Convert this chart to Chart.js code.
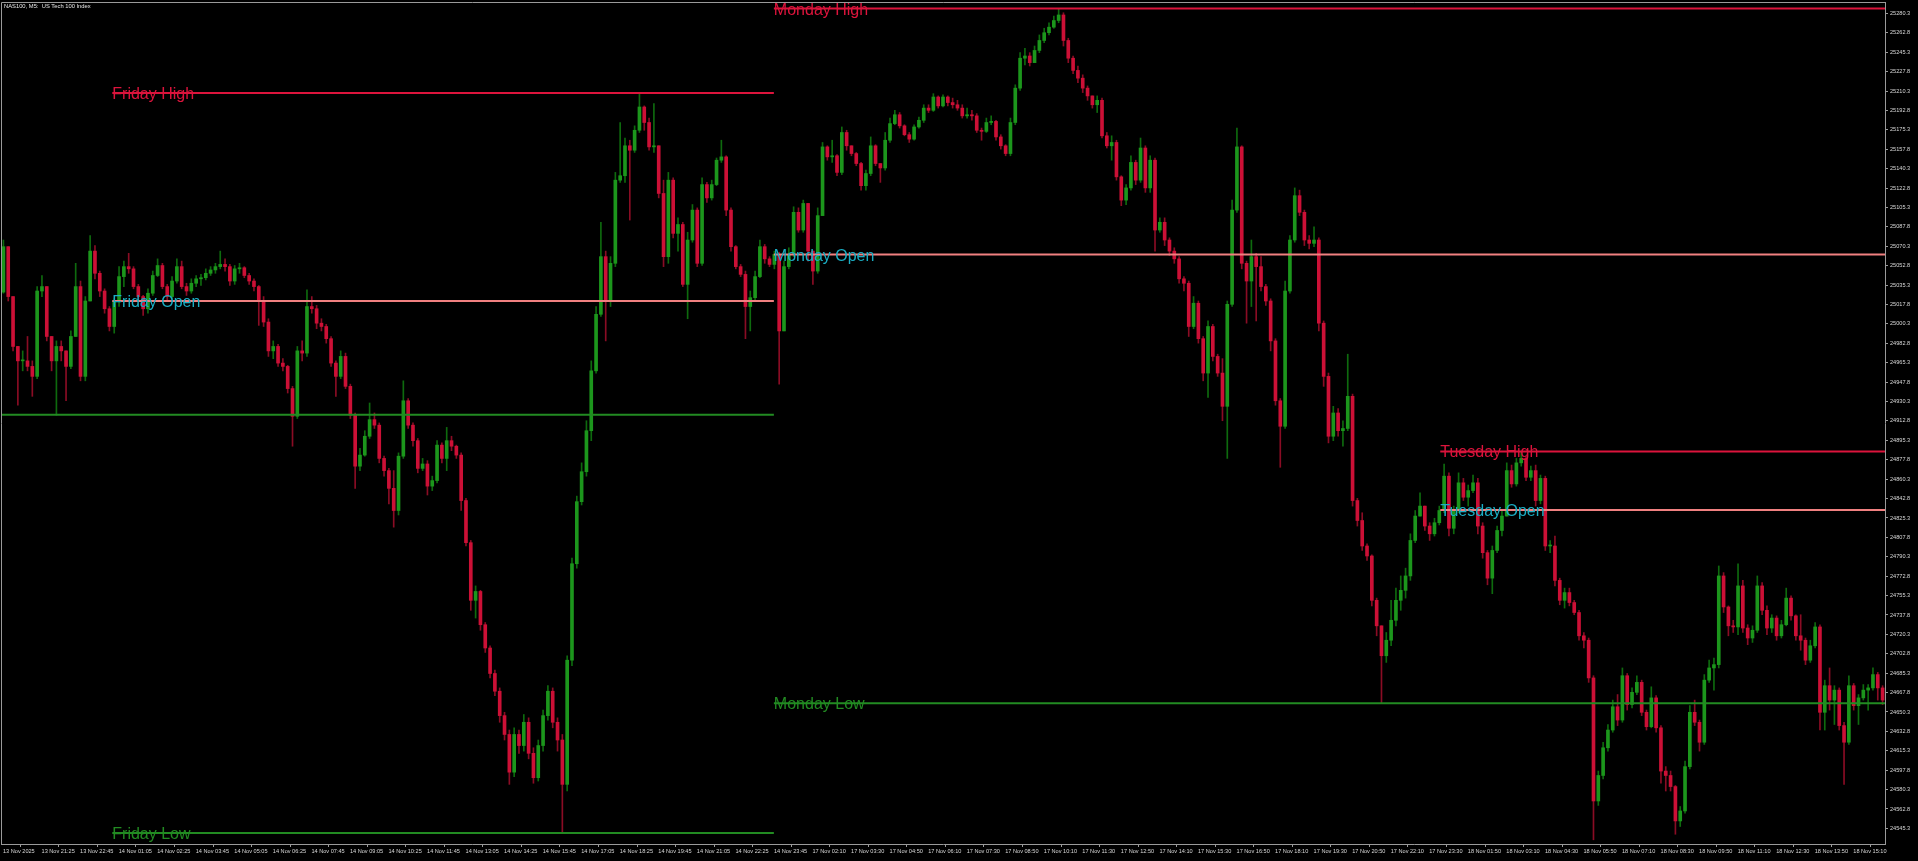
<!DOCTYPE html>
<html>
<head>
<meta charset="utf-8">
<title>NAS100, M5</title>
<script src="https://cdn.jsdelivr.net/npm/chart.js@4.4.1/dist/chart.umd.min.js"></script>
<style>
  html, body { margin: 0; padding: 0; background: #000; }
  #wrap { width: 1918px; height: 861px; }
</style>
</head>
<body>
<div id="wrap"><canvas id="chart" width="1918" height="861"></canvas></div>
<script>
// 10-minute candles, 13 Nov 20:05 .. 18 Nov 16:05
const firstOpen = 25029;
const closes = [
  25070, 25025, 24980, 24967, 24967, 24962, 24953, 25030, 25034, 24989, 24967, 24980, 24976, 24962, 24989, 25034, 24953, 25021, 25066, 25046,
  25030, 25014, 24998, 25021, 25043, 25052, 25050, 25034, 25025, 25014, 25028, 25044, 25053, 25034, 25025, 25039, 25052, 25034, 25030, 25037,
  25041, 25042, 25046, 25049, 25052, 25054, 25052, 25039, 25050, 25051, 25044, 25039, 25034, 25021, 25002, 24976, 24980, 24965, 24962, 24942,
  24917, 24976, 24974, 25016, 25014, 25001, 24998, 24987, 24965, 24953, 24971, 24944, 24918, 24872, 24882, 24899, 24914, 24909, 24879, 24868,
  24852, 24832, 24881, 24931, 24909, 24895, 24870, 24874, 24854, 24859, 24891, 24879, 24895, 24890, 24882, 24841, 24803, 24751, 24759, 24729,
  24708, 24685, 24669, 24647, 24630, 24596, 24630, 24620, 24641, 24613, 24591, 24620, 24647, 24669, 24641, 24625, 24585, 24697, 24784, 24840,
  24867, 24904, 24958, 25009, 25061, 25021, 25055, 25130, 25134, 25161, 25157, 25175, 25196, 25182, 25160, 25161, 25118, 25061, 25130, 25082,
  25090, 25036, 25076, 25103, 25055, 25126, 25114, 25126, 25148, 25151, 25103, 25070, 25052, 25045, 25016, 25024, 25043, 25070, 25059, 25054,
  25063, 24994, 25052, 25063, 25101, 25085, 25109, 25066, 25048, 25098, 25160, 25151, 25152, 25137, 25173, 25161, 25154, 25145, 25125, 25136,
  25161, 25145, 25141, 25166, 25181, 25189, 25179, 25171, 25167, 25178, 25184, 25195, 25193, 25205, 25197, 25205, 25200, 25198, 25195, 25188,
  25189, 25188, 25175, 25174, 25182, 25183, 25169, 25161, 25154, 25182, 25213, 25240, 25242, 25236, 25247, 25256, 25263, 25268, 25274, 25279,
  25256, 25240, 25229, 25222, 25213, 25206, 25198, 25202, 25170, 25161, 25164, 25133, 25112, 25123, 25146, 25130, 25159, 25123, 25148, 25085,
  25092, 25076, 25066, 25059, 25041, 25037, 24998, 25019, 24987, 24956, 24998, 24971, 24956, 24926, 25018, 25103, 25160, 25055, 25039, 25061,
  25052, 25034, 25021, 24985, 24931, 24908, 25030, 25076, 25116, 25101, 25076, 25073, 25076, 25001, 24953, 24899, 24920, 24904, 24906, 24935,
  24841, 24823, 24800, 24791, 24751, 24728, 24701, 24715, 24733, 24751, 24760, 24773, 24805, 24827, 24836, 24818, 24811, 24821, 24832, 24863,
  24816, 24832, 24857, 24844, 24850, 24857, 24818, 24794, 24771, 24796, 24814, 24827, 24868, 24856, 24875, 24879, 24862, 24868, 24841, 24861,
  24800, 24800, 24769, 24751, 24758, 24749, 24740, 24719, 24715, 24681, 24570, 24593, 24618, 24634, 24655, 24643, 24683, 24657, 24668, 24677,
  24650, 24637, 24663, 24636, 24597, 24593, 24583, 24552, 24561, 24601, 24650, 24641, 24623, 24679, 24690, 24693, 24773, 24745, 24728, 24727,
  24764, 24726, 24717, 24724, 24764, 24742, 24726, 24735, 24719, 24729, 24753, 24737, 24719, 24715, 24697, 24710, 24727, 24650, 24674, 24661,
  24670, 24638, 24623, 24674, 24656, 24663, 24670, 24672, 24684, 24672, 24661
];
const highs = [
  25076, 25070, 25025, 24980, 24976, 24989, 24967, 25034, 25044, 25034, 24989, 24985, 24985, 24976, 24994, 25055, 25039, 25025, 25080, 25071,
  25048, 25032, 25016, 25023, 25052, 25057, 25064, 25052, 25036, 25026, 25032, 25048, 25059, 25055, 25036, 25043, 25059, 25057, 25037, 25041,
  25044, 25045, 25050, 25052, 25055, 25066, 25059, 25054, 25053, 25055, 25052, 25046, 25041, 25035, 25025, 25005, 24985, 24982, 24969, 24963,
  24944, 24980, 24985, 25031, 25025, 25017, 25005, 25000, 24989, 24967, 24976, 24974, 24946, 24920, 24888, 24904, 24929, 24920, 24911, 24881,
  24870, 24868, 24884, 24949, 24933, 24911, 24897, 24879, 24877, 24863, 24895, 24893, 24907, 24899, 24891, 24884, 24843, 24805, 24764, 24760,
  24731, 24710, 24688, 24672, 24650, 24634, 24636, 24634, 24648, 24645, 24618, 24625, 24652, 24674, 24672, 24645, 24630, 24701, 24789, 24845,
  24875, 24913, 24967, 25016, 25092, 25066, 25061, 25137, 25182, 25168, 25166, 25179, 25209, 25197, 25186, 25199, 25161, 25130, 25137, 25132,
  25096, 25092, 25083, 25108, 25105, 25132, 25128, 25130, 25150, 25166, 25152, 25105, 25071, 25054, 25048, 25030, 25048, 25076, 25072, 25061,
  25066, 25065, 25057, 25069, 25106, 25105, 25112, 25109, 25066, 25105, 25164, 25161, 25166, 25153, 25178, 25175, 25161, 25155, 25146, 25139,
  25169, 25162, 25145, 25173, 25186, 25193, 25191, 25180, 25173, 25180, 25187, 25198, 25198, 25208, 25206, 25207, 25206, 25204, 25202, 25198,
  25195, 25193, 25190, 25177, 25186, 25188, 25184, 25171, 25162, 25186, 25216, 25245, 25249, 25245, 25251, 25261, 25267, 25272, 25278, 25285,
  25281, 25258, 25242, 25233, 25225, 25215, 25206, 25206, 25204, 25173, 25170, 25166, 25134, 25126, 25152, 25148, 25168, 25161, 25152, 25150,
  25096, 25096, 25078, 25069, 25061, 25043, 25039, 25025, 25021, 24989, 25003, 25000, 24973, 24969, 25021, 25112, 25177, 25161, 25057, 25076,
  25064, 25061, 25036, 25023, 24987, 24933, 25039, 25080, 25123, 25121, 25103, 25080, 25088, 25078, 25003, 24956, 24926, 24924, 24913, 24973,
  24937, 24843, 24830, 24802, 24792, 24753, 24724, 24722, 24751, 24762, 24773, 24780, 24811, 24832, 24848, 24836, 24821, 24825, 24836, 24874,
  24866, 24836, 24866, 24861, 24855, 24864, 24861, 24821, 24796, 24800, 24818, 24832, 24875, 24873, 24879, 24885, 24881, 24872, 24873, 24864,
  24863, 24805, 24809, 24771, 24762, 24762, 24751, 24742, 24722, 24717, 24683, 24597, 24623, 24639, 24661, 24666, 24690, 24685, 24672, 24683,
  24679, 24652, 24673, 24665, 24638, 24601, 24597, 24584, 24565, 24606, 24656, 24661, 24643, 24684, 24697, 24699, 24782, 24776, 24746, 24733,
  24784, 24769, 24729, 24728, 24773, 24767, 24746, 24738, 24737, 24733, 24762, 24755, 24738, 24738, 24717, 24715, 24731, 24729, 24679, 24690,
  24674, 24672, 24641, 24683, 24676, 24666, 24675, 24675, 24690, 24686, 24674
];
const lows = [
  25028, 25021, 24976, 24927, 24958, 24958, 24935, 24951, 25025, 24985, 24958, 24918, 24967, 24931, 24960, 24989, 24949, 24949, 25021, 25041,
  25025, 25010, 24994, 24992, 25016, 25034, 25046, 25032, 25021, 25008, 25010, 25026, 25043, 25032, 25021, 25023, 25037, 25032, 25026, 25028,
  25034, 25035, 25040, 25044, 25046, 25050, 25048, 25035, 25036, 25046, 25042, 25036, 25030, 24999, 24998, 24971, 24969, 24962, 24958, 24938,
  24890, 24915, 24967, 24971, 25010, 24996, 24994, 24983, 24962, 24935, 24951, 24942, 24915, 24852, 24868, 24881, 24897, 24906, 24875, 24863,
  24838, 24817, 24828, 24879, 24906, 24890, 24866, 24868, 24846, 24850, 24857, 24875, 24868, 24886, 24879, 24832, 24800, 24742, 24735, 24724,
  24704, 24681, 24665, 24641, 24625, 24585, 24592, 24613, 24615, 24608, 24586, 24588, 24615, 24643, 24636, 24615, 24541, 24579, 24692, 24780,
  24837, 24863, 24895, 24956, 25007, 24985, 25016, 25052, 25128, 25128, 25094, 25155, 25173, 25175, 25157, 25155, 25114, 25052, 25055, 25078,
  25066, 25034, 25005, 25074, 25052, 25053, 25110, 25112, 25125, 25146, 25098, 25066, 25050, 25043, 24987, 24994, 25021, 25042, 25055, 25052,
  25050, 24946, 24994, 25050, 25061, 25083, 25083, 25057, 25036, 25046, 25098, 25148, 25146, 25134, 25135, 25157, 25152, 25143, 25121, 25121,
  25134, 25143, 25128, 25139, 25164, 25180, 25177, 25170, 25164, 25166, 25177, 25182, 25191, 25192, 25195, 25196, 25197, 25195, 25193, 25186,
  25186, 25184, 25173, 25166, 25173, 25180, 25166, 25158, 25152, 25152, 25180, 25211, 25234, 25233, 25236, 25245, 25254, 25261, 25267, 25272,
  25251, 25236, 25226, 25218, 25209, 25202, 25195, 25191, 25168, 25159, 25148, 25130, 25107, 25108, 25121, 25126, 25128, 25119, 25119, 25066,
  25083, 25071, 25062, 25055, 25037, 25030, 24989, 24996, 24983, 24949, 24934, 24967, 24953, 24913, 24879, 25016, 25101, 25050, 25001, 25016,
  25003, 25030, 25017, 24976, 24927, 24871, 24906, 25028, 25074, 25098, 25071, 25068, 25070, 24994, 24944, 24893, 24895, 24899, 24890, 24904,
  24836, 24818, 24796, 24787, 24746, 24719, 24658, 24695, 24710, 24728, 24742, 24753, 24769, 24803, 24832, 24814, 24805, 24809, 24819, 24830,
  24809, 24811, 24830, 24841, 24836, 24848, 24811, 24789, 24765, 24757, 24794, 24809, 24827, 24853, 24854, 24872, 24859, 24859, 24836, 24838,
  24796, 24794, 24764, 24747, 24744, 24746, 24738, 24715, 24708, 24677, 24535, 24566, 24590, 24615, 24632, 24638, 24641, 24652, 24654, 24666,
  24647, 24634, 24636, 24632, 24586, 24579, 24579, 24540, 24547, 24559, 24599, 24638, 24615, 24621, 24677, 24670, 24690, 24740, 24719, 24722,
  24720, 24722, 24711, 24713, 24722, 24738, 24720, 24722, 24715, 24717, 24728, 24733, 24715, 24706, 24693, 24695, 24708, 24634, 24634, 24652,
  24639, 24634, 24585, 24621, 24652, 24639, 24661, 24652, 24670, 24661, 24657
];

// time axis labels, one every 8 candles (80 minutes)
const xTickLabels = [
  '13 Nov 2025', '13 Nov 21:25', '13 Nov 22:45', '14 Nov 01:05', '14 Nov 02:25', '14 Nov 03:45', '14 Nov 05:05',
  '14 Nov 06:25', '14 Nov 07:45', '14 Nov 09:05', '14 Nov 10:25', '14 Nov 11:45', '14 Nov 13:05', '14 Nov 14:25',
  '14 Nov 15:45', '14 Nov 17:05', '14 Nov 18:25', '14 Nov 19:45', '14 Nov 21:05', '14 Nov 22:25', '14 Nov 23:45',
  '17 Nov 02:10', '17 Nov 03:30', '17 Nov 04:50', '17 Nov 06:10', '17 Nov 07:30', '17 Nov 08:50', '17 Nov 10:10',
  '17 Nov 11:30', '17 Nov 12:50', '17 Nov 14:10', '17 Nov 15:30', '17 Nov 16:50', '17 Nov 18:10', '17 Nov 19:30',
  '17 Nov 20:50', '17 Nov 22:10', '17 Nov 23:30', '18 Nov 01:50', '18 Nov 03:10', '18 Nov 04:30', '18 Nov 05:50',
  '18 Nov 07:10', '18 Nov 08:30', '18 Nov 09:50', '18 Nov 11:10', '18 Nov 12:30', '18 Nov 13:50', '18 Nov 15:10'
];
const yTicks = [
  24545.3, 24562.8, 24580.3, 24597.8, 24615.3, 24632.8, 24650.3, 24667.8, 24685.3, 24702.8, 24720.3,
  24737.8, 24755.3, 24772.8, 24790.3, 24807.8, 24825.3, 24842.8, 24860.3, 24877.8, 24895.3, 24912.8,
  24930.3, 24947.8, 24965.3, 24982.8, 25000.3, 25017.8, 25035.3, 25052.8, 25070.3, 25087.8, 25105.3,
  25122.8, 25140.3, 25157.8, 25175.3, 25192.8, 25210.3, 25227.8, 25245.3, 25262.8, 25280.3
];

// session levels (from / to are candle indexes)
const levelNames  = ['Friday High', 'Friday Open', '', 'Friday Low', 'Monday High', 'Monday Open', 'Monday Low', 'Tuesday High', 'Tuesday Open'];
const levelKinds  = ['high', 'open', 'low', 'low', 'high', 'open', 'low', 'high', 'open'];
const levelValues = [25208.6, 25021.0, 24918.4, 24541.1, 25284.8, 25062.9, 24658.1, 24885.3, 24832.4];
const levelFrom   = [22.6, 22.6, -0.5, 22.6, 159.9, 159.9, 159.9, 298.2, 298.2];
const levelTo     = [159.9, 159.9, 159.9, 159.9, 390.5, 390.5, 390.5, 390.5, 390.5];

const lineColor = { high: '#dc143c', open: '#f08080', low: '#228b22' };
const textColor = { high: '#dc143c', open: '#1aaec4', low: '#228b22' };
const axisGray = '#9a9a9a';
const smallFont = { family: 'Liberation Sans, Arial, sans-serif', size: 5.6 };

const opens = closes.map((c, i) => (i === 0 ? firstOpen : closes[i - 1]));
const up = closes.map((c, i) => c >= opens[i]);

const bodies = closes.map((c, i) => ({ x: i, y: [opens[i], c] }));
const wicks = closes.map((c, i) => ({
  x: i,
  y: [Math.min(lows[i], opens[i], c), Math.max(highs[i], opens[i], c)]
}));

const levelSets = levelValues.map((v, i) => ({
  type: 'line',
  data: [{ x: levelFrom[i], y: v }, { x: levelTo[i], y: v }],
  borderColor: lineColor[levelKinds[i]],
  borderWidth: 2,
  pointRadius: 0,
  fill: false,
  order: 0
}));

const overlay = {
  id: 'overlay',
  afterDatasetsDraw(chart) {
    const { ctx, chartArea: a, scales } = chart;
    ctx.save();
    // frame top and left (bottom / right are the axes)
    ctx.strokeStyle = axisGray;
    ctx.lineWidth = 1;
    ctx.beginPath();
    ctx.moveTo(a.left + 0.5, a.bottom);
    ctx.lineTo(a.left + 0.5, a.top + 0.5);
    ctx.lineTo(a.right, a.top + 0.5);
    ctx.stroke();

    ctx.font = '16px "Liberation Sans", Arial, sans-serif';
    ctx.textAlign = 'left';
    ctx.textBaseline = 'alphabetic';
    levelNames.forEach((name, i) => {
      if (!name) return;
      ctx.fillStyle = textColor[levelKinds[i]];
      const x = scales.x.getPixelForValue(levelFrom[i]);
      const y = scales.y.getPixelForValue(levelValues[i]);
      ctx.fillText(name, x, y + 6);
    });

    ctx.font = '5.8px "Liberation Sans", Arial, sans-serif';
    ctx.fillStyle = '#e6e6e6';
    ctx.textBaseline = 'middle';
    ctx.fillText('NAS100, M5:  US Tech 100 Index', 4, 6);
    ctx.restore();
  }
};

new Chart(document.getElementById('chart'), {
  type: 'bar',
  data: {
    datasets: [
      ...levelSets,
      {
        data: bodies,
        backgroundColor: up.map(u => (u ? '#1c961c' : '#cc1036')),
        barThickness: 3,
        minBarLength: 1,
        grouped: false,
        order: 1
      },
      {
        data: wicks,
        backgroundColor: up.map(u => (u ? '#0e6a0e' : '#8a0c24')),
        barThickness: 1,
        grouped: false,
        order: 2
      }
    ]
  },
  options: {
    responsive: false,
    animation: false,
    events: [],
    layout: { padding: { top: 2, left: 1, right: 0, bottom: 0 } },
    plugins: { legend: { display: false }, tooltip: { enabled: false } },
    scales: {
      x: {
        type: 'linear',
        min: -0.5,
        max: closes.length - 0.5,
        offset: false,
        afterBuildTicks: s => { s.ticks = xTickLabels.map((_, i) => ({ value: i * 8 - 0.5 })); },
        afterFit: s => { s.height = 17; s.paddingLeft = 0; s.paddingRight = 0; },
        grid: { drawOnChartArea: false, tickLength: 3, color: axisGray },
        border: { display: true, color: axisGray },
        ticks: {
          autoSkip: false, maxRotation: 0, minRotation: 0,
          align: 'start', labelOffset: 2, padding: 1,
          color: '#d8d8d8', font: smallFont,
          callback: (v, i) => xTickLabels[i]
        }
      },
      y: {
        type: 'linear',
        position: 'right',
        min: 24531.2,
        max: 25290.7,
        afterBuildTicks: s => { s.ticks = yTicks.map(v => ({ value: v })); },
        afterFit: s => { s.width = 33; s.paddingTop = 0; s.paddingBottom = 0; },
        grid: { drawOnChartArea: false, tickLength: 3, color: axisGray },
        border: { display: true, color: axisGray },
        ticks: { padding: 2, color: '#d8d8d8', font: smallFont, callback: v => v.toFixed(1) }
      }
    }
  },
  plugins: [overlay]
});
</script>
</body>
</html>
